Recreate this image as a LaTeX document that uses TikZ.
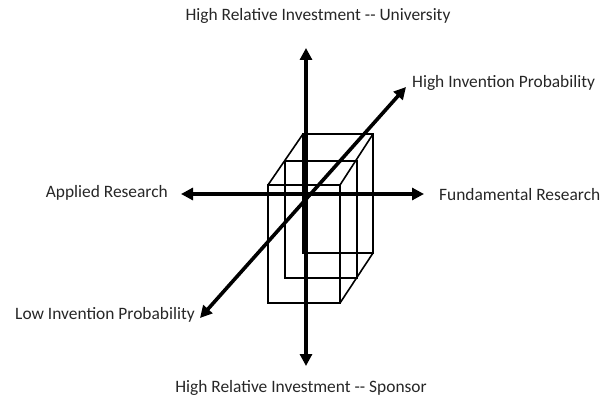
\documentclass[tikz,border=0pt]{standalone}
\usepackage{fontspec}
\setmainfont{Carlito}
\usetikzlibrary{arrows.meta}
\begin{document}
\begin{tikzpicture}[x=1pt,y=-1pt,
  axisline/.style={line width=3.6pt,{Triangle[length=12pt,width=12pt]}-{Triangle[length=12pt,width=12pt]}},
  boxline/.style={line width=1.6pt,line join=miter},
  lbl/.style={inner sep=0pt,font=\fontsize{17.4}{19}\selectfont,text=black!85}]
\useasboundingbox (0,0) rectangle (603,404);
% box corners
\coordinate (f1) at (268,185); \coordinate (f2) at (340,185);
\coordinate (f3) at (340,303); \coordinate (f4) at (268,303);
\coordinate (m1) at (285,161); \coordinate (m2) at (357,161);
\coordinate (m3) at (357,278); \coordinate (m4) at (285,278);
\coordinate (b1) at (303,134); \coordinate (b2) at (373,134);
\coordinate (b3) at (373,253); \coordinate (b4) at (303,253);
\draw[boxline] (b1) rectangle (b3);
\draw[boxline] (m1) rectangle (m3);
\draw[boxline] (f1) rectangle (f3);
\draw[boxline] (f1) -- (b1);
\draw[boxline] (f2) -- (b2);
\draw[boxline] (f3) -- (b3);
% axis end points
\coordinate (top) at (306,48);
\coordinate (bot) at (306,366);
\coordinate (lft) at (181,194);
\coordinate (rgt) at (424,194);
\coordinate (dlo) at (200,318);
\coordinate (dhi) at (406,87);
\draw[axisline] (bot) -- (top);
\draw[axisline] (lft) -- (rgt);
\draw[axisline] (dlo) -- (dhi);
% labels
\node[lbl] (tUni) at (318,16) {High Relative Investment {-}{-} University};
\node[lbl] (tSpo) at (301,388) {High Relative Investment {-}{-} Sponsor};
\node[lbl,anchor=east] (tApp) at (168,193) {Applied Research};
\node[lbl,anchor=west] (tFun) at (439,195) {Fundamental Research};
\node[lbl,anchor=west] (tHiP) at (412,83) {High Invention Probability};
\node[lbl,anchor=west] (tLoP) at (15,315) {Low Invention Probability};
\end{tikzpicture}
\end{document}
